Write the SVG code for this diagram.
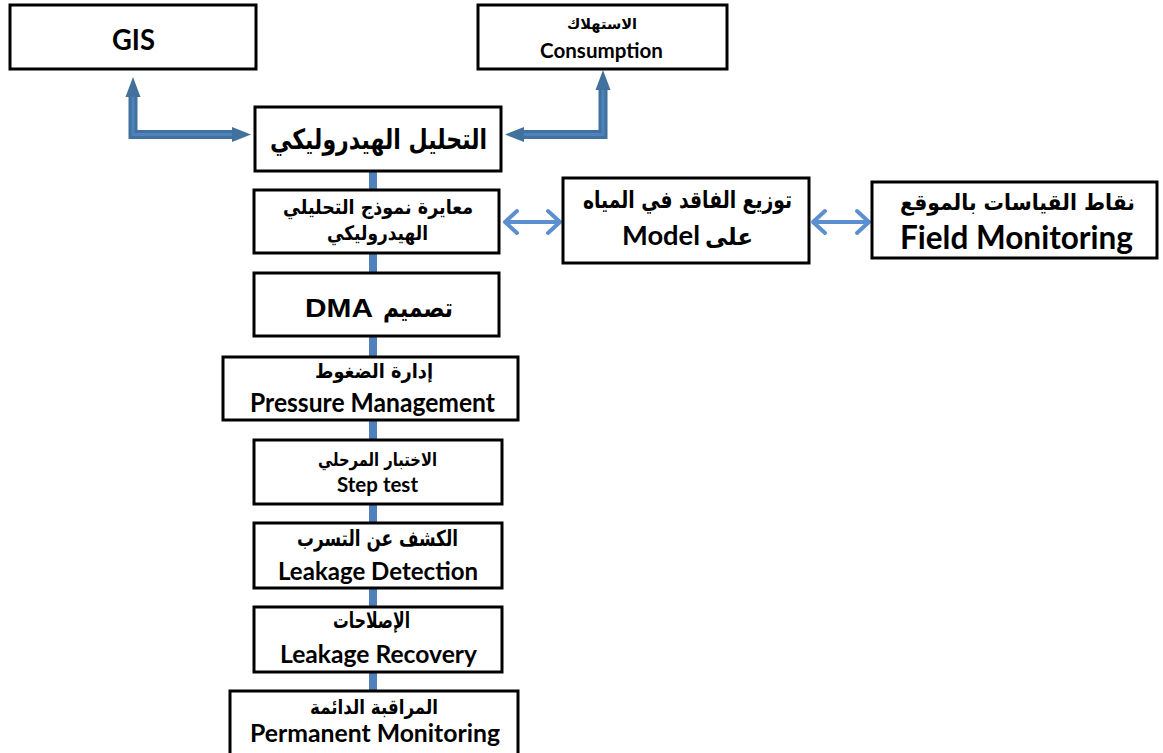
<svg xmlns="http://www.w3.org/2000/svg" width="1163" height="753" viewBox="0 0 1163 753">
<style>
.box{fill:#fff;stroke:#000;stroke-width:3}
.en{font-family:Lato,"Open Sans",sans-serif;font-weight:bold;fill:#000;text-anchor:middle}
.ar{font-family:"DejaVu Sans",sans-serif;font-weight:bold;fill:#000;text-anchor:middle}
.ar2{font-family:"Liberation Sans","DejaVu Sans",sans-serif;font-weight:bold;fill:#000;text-anchor:middle}
.vc{stroke:#4f81bd;stroke-width:8;fill:none}
.el{stroke:#41719c;stroke-width:9;fill:none}
.eli{stroke:#4f81bd;stroke-width:3;fill:none}
.da{stroke:#5b8fd0;stroke-width:4;fill:none;stroke-linecap:round;stroke-linejoin:round}
</style>
<rect width="1163" height="753" fill="#fff"/>
<g id="connectors">
<line class="vc" x1="373" y1="171" x2="373" y2="190"/>
<line class="vc" x1="373" y1="253" x2="373" y2="273"/>
<line class="vc" x1="373" y1="336" x2="373" y2="357"/>
<line class="vc" x1="373" y1="420" x2="373" y2="440"/>
<line class="vc" x1="373" y1="504" x2="373" y2="523"/>
<line class="vc" x1="373" y1="588" x2="373" y2="607"/>
<line class="vc" x1="373" y1="672" x2="373" y2="691"/>
<path class="el" d="M133,95 L133,134.5 L234,134.5"/>
<path class="eli" d="M133,95 L133,134.5 L234,134.5"/>
<polygon points="133,77 125.5,97 140.5,97" fill="#41719c"/>
<polygon points="251,134.5 232,127 232,142" fill="#41719c"/>
<path class="el" d="M603,88 L603,134.5 L522,134.5"/>
<path class="eli" d="M603,88 L603,134.5 L522,134.5"/>
<polygon points="603,70 595.5,90 610.5,90" fill="#41719c"/>
<polygon points="505,134.5 524,127 524,142" fill="#41719c"/>
<path class="da" d="M505,222 L560,222 M517,211 L505,222 L517,233 M548,211 L560,222 L548,233"/>
<path class="da" d="M813,222 L869,222 M825,211 L813,222 L825,233 M857,211 L869,222 L857,233"/>
</g>
<g id="gis">
<rect class="box" x="10" y="5" width="246" height="64"/>
<text class="en" x="133.5" y="50" font-size="28" textLength="43" lengthAdjust="spacingAndGlyphs">GIS</text>
</g>
<g id="consumption">
<rect class="box" x="478" y="5" width="249" height="64"/>
<text class="ar2" x="602" y="29" font-size="15" textLength="70" lengthAdjust="spacingAndGlyphs">الاستهلاك</text>
<text class="en" x="601.5" y="58" font-size="20" textLength="123" lengthAdjust="spacingAndGlyphs">Consumption</text>
</g>
<g id="hydraulic">
<rect class="box" x="255" y="107" width="246" height="64"/>
<text class="ar" x="378.5" y="149" font-size="28" textLength="217" lengthAdjust="spacingAndGlyphs">التحليل الهيدروليكي</text>
</g>
<g id="calibration">
<rect class="box" x="254" y="190" width="245" height="63"/>
<text class="ar" x="378" y="214" font-size="20" textLength="190" lengthAdjust="spacingAndGlyphs">معايرة نموذج التحليلي</text>
<text class="ar" x="377.5" y="240" font-size="20" textLength="101" lengthAdjust="spacingAndGlyphs">الهيدروليكي</text>
</g>
<g id="loss">
<rect class="box" x="563" y="178" width="246" height="85"/>
<text class="ar" x="687.5" y="208" font-size="24" textLength="209" lengthAdjust="spacingAndGlyphs">توزيع الفاقد في المياه</text>
<text class="ar" x="729" y="245" font-size="24" textLength="48" lengthAdjust="spacingAndGlyphs">على</text>
<text class="en" x="661" y="245" font-size="26" textLength="78" lengthAdjust="spacingAndGlyphs">Model</text>
</g>
<g id="field">
<rect class="box" x="872" y="182" width="285" height="76"/>
<text class="ar" x="1017.5" y="210" font-size="22" textLength="235" lengthAdjust="spacingAndGlyphs">نقاط القياسات بالموقع</text>
<text class="en" x="1016.5" y="249" font-size="32" textLength="233" lengthAdjust="spacingAndGlyphs">Field Monitoring</text>
</g>
<g id="dma">
<rect class="box" x="254" y="273" width="245" height="63"/>
<text class="ar" x="418" y="317" font-size="26" textLength="70" lengthAdjust="spacingAndGlyphs">تصميم</text>
<text class="ar2" x="339" y="317" font-size="26" textLength="68" lengthAdjust="spacingAndGlyphs">DMA</text>
</g>
<g id="pressure">
<rect class="box" x="223" y="357" width="295" height="63"/>
<text class="ar" x="374" y="378" font-size="20" textLength="118" lengthAdjust="spacingAndGlyphs">إدارة الضغوط</text>
<text class="en" x="372.5" y="412" font-size="26" textLength="245" lengthAdjust="spacingAndGlyphs">Pressure Management</text>
</g>
<g id="steptest">
<rect class="box" x="254" y="440" width="248" height="64"/>
<text class="ar" x="377.5" y="466" font-size="18" textLength="119" lengthAdjust="spacingAndGlyphs">الاختبار المرحلي</text>
<text class="en" x="377.5" y="492" font-size="20" textLength="81" lengthAdjust="spacingAndGlyphs">Step test</text>
</g>
<g id="detection">
<rect class="box" x="254" y="523" width="248" height="65"/>
<text class="ar" x="377.5" y="546" font-size="22" textLength="161" lengthAdjust="spacingAndGlyphs">الكشف عن التسرب</text>
<text class="en" x="378" y="580" font-size="24" textLength="200" lengthAdjust="spacingAndGlyphs">Leakage Detection</text>
</g>
<g id="recovery">
<rect class="box" x="254" y="607" width="248" height="65"/>
<text class="ar" x="371.5" y="628" font-size="22" textLength="77" lengthAdjust="spacingAndGlyphs">الإصلاحات</text>
<text class="en" x="378.5" y="663" font-size="24" textLength="197" lengthAdjust="spacingAndGlyphs">Leakage Recovery</text>
</g>
<g id="permanent">
<rect class="box" x="230" y="691" width="288" height="70"/>
<text class="ar" x="374" y="714" font-size="20" textLength="128" lengthAdjust="spacingAndGlyphs">المراقبة الدائمة</text>
<text class="en" x="375" y="742" font-size="24" textLength="250" lengthAdjust="spacingAndGlyphs">Permanent Monitoring</text>
</g>
</svg>
